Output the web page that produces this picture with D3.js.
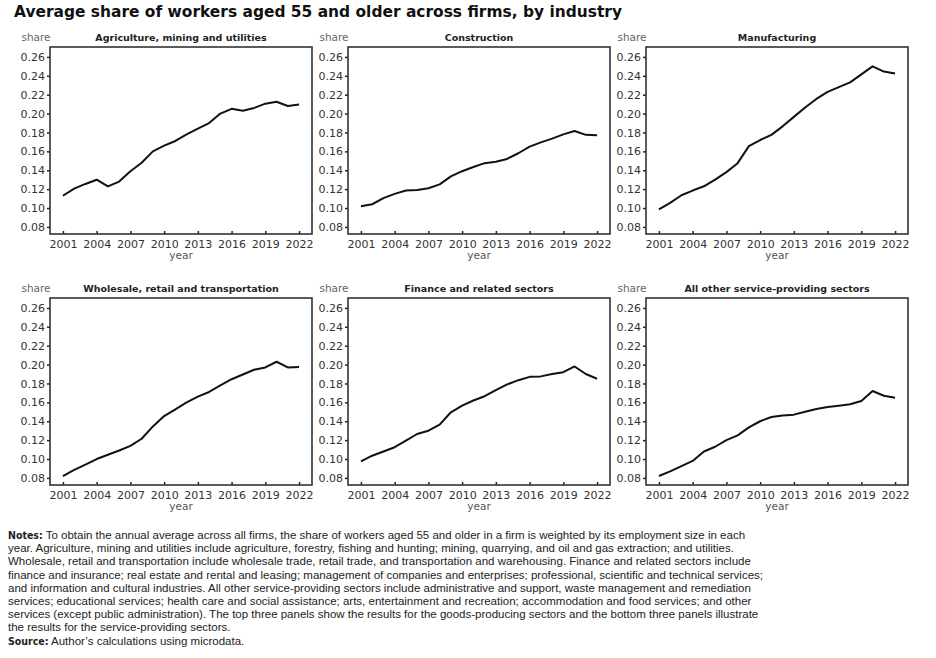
<!DOCTYPE html>
<html>
<head>
<meta charset="utf-8">
<script src="https://cdn.jsdelivr.net/npm/d3@7"></script>
<style>
  body { margin: 0; background: #fff; }
  svg { display: block; }
</style>
</head>
<body>
<svg id="chart" width="936" height="658"></svg>
<script>
const years = d3.range(2001, 2023);
const yearTicks = [2001, 2004, 2007, 2010, 2013, 2016, 2019, 2022];
const shareTicks = [0.08, 0.10, 0.12, 0.14, 0.16, 0.18, 0.20, 0.22, 0.24, 0.26];

const titles = [
    "Agriculture, mining and utilities",
    "Construction",
    "Manufacturing",
    "Wholesale, retail and transportation",
    "Finance and related sectors",
    "All other service-providing sectors"
];

// valeurs, 2001 -> 2022
const agriculture = [0.113, 0.1205, 0.1255, 0.130, 0.123, 0.128, 0.139, 0.148, 0.160, 0.166, 0.171, 0.178,
    0.184, 0.190, 0.200, 0.205, 0.203, 0.206, 0.2105, 0.2125, 0.208, 0.2095];
const construction = [0.102, 0.104, 0.1105, 0.115, 0.1185, 0.119, 0.121, 0.125, 0.1335, 0.139, 0.1435, 0.1475,
    0.149, 0.152, 0.158, 0.165, 0.1695, 0.1735, 0.178, 0.1815, 0.1775, 0.177];
const manufacturing = [0.0985, 0.1055, 0.1135, 0.1185, 0.123, 0.130, 0.138, 0.1475, 0.1655, 0.172, 0.1775, 0.1865,
    0.1965, 0.2065, 0.2155, 0.223, 0.228, 0.233, 0.2415, 0.250, 0.2445, 0.2425];
const wholesale = [0.082, 0.0885, 0.094, 0.100, 0.1045, 0.109, 0.114, 0.1215, 0.1345, 0.1455, 0.1525, 0.160,
    0.166, 0.171, 0.178, 0.1845, 0.1895, 0.1945, 0.197, 0.203, 0.197, 0.1975];
const finance = [0.0975, 0.1035, 0.108, 0.1125, 0.1195, 0.1265, 0.130, 0.1365, 0.1495, 0.1565, 0.162, 0.1665,
    0.173, 0.179, 0.1835, 0.187, 0.1875, 0.190, 0.192, 0.198, 0.190, 0.185];
const otherServices = [0.082, 0.087, 0.0925, 0.098, 0.108, 0.113, 0.120, 0.125, 0.1335, 0.140, 0.1445, 0.146,
    0.147, 0.150, 0.153, 0.155, 0.1565, 0.158, 0.1615, 0.172, 0.167, 0.165];

const series = [agriculture, construction, manufacturing, wholesale, finance, otherServices];

const notes = [
    [["Notes:", true], [" To obtain the annual average across all firms, the share of workers aged 55 and older in a firm is weighted by its employment size in each", false]],
    [["year. Agriculture, mining and utilities include agriculture, forestry, fishing and hunting;  mining, quarrying, and oil  and gas extraction; and utilities.", false]],
    [["Wholesale, retail and transportation include wholesale trade, retail trade, and transportation and warehousing. Finance and related sectors include", false]],
    [["finance and insurance; real estate and rental and leasing;  management of companies and enterprises; professional, scientific and technical services;", false]],
    [["and information and cultural industries. All other service-providing sectors include administrative and support, waste management and remediation", false]],
    [["services; educational services; health care and social assistance; arts, entertainment and recreation; accommodation and food services; and other", false]],
    [["services (except public administration). The top three panels show the results for the goods-producing sectors and the bottom three panels illustrate", false]],
    [["the results for the service-providing sectors.", false]],
    [["Source:", true], [" Author\u2019s calculations using microdata.", false]]
];

const svg = d3.select("#chart");
const font = "DejaVu Sans, Verdana, sans-serif";

// titre
const title = svg.append("text")
    .attr("x", 14)
    .attr("y", 17)
    .attr("font-family", font)
    .attr("font-weight", "bold")
    .attr("font-size", 15)
    .attr("fill", "#111")
    .text("Average share of workers aged 55 and older across firms, by industry");
const tw = title.node().getComputedTextLength();
if (tw > 0) title.attr("textLength", 608).attr("lengthAdjust", "spacingAndGlyphs");

const boxW = 262, boxH = 187;
const colX = [50, 348, 646];
const rowY = [47, 298];

const x = d3.scaleLinear().domain([1999.85, 2023.15]).range([0, boxW]);
const y = d3.scaleLinear().domain([0.0725, 0.2705]).range([boxH, 0]);

const line = d3.line()
    .x((d, i) => x(years[i]))
    .y(d => y(d));

series.forEach((values, k) => {
    const g = svg.append("g")
        .attr("transform", `translate(${colX[k % 3]}, ${rowY[Math.floor(k / 3)]})`);

    // axe des y
    const yAxis = g.append("g")
        .call(d3.axisLeft(y).tickValues(shareTicks).tickFormat(d3.format(".2f")).tickSize(3).tickPadding(2));
    yAxis.select(".domain").remove();
    yAxis.selectAll("line").attr("stroke", "#222").attr("stroke-width", 1.5);
    yAxis.selectAll("text").attr("font-family", font).attr("font-size", 11).attr("fill", "#333");

    // axe des x, graduations vers l'intérieur
    const xAxis = g.append("g")
        .attr("transform", `translate(0, ${boxH})`)
        .call(d3.axisBottom(x).tickValues(yearTicks).tickFormat(d3.format("d")).tickSizeInner(-3).tickSizeOuter(0).tickPadding(6));
    xAxis.select(".domain").remove();
    xAxis.selectAll("line").attr("stroke", "#222").attr("stroke-width", 1.5);
    xAxis.selectAll("text").attr("font-family", font).attr("font-size", 11).attr("fill", "#333");

    g.append("rect")
        .attr("width", boxW)
        .attr("height", boxH)
        .attr("fill", "none")
        .attr("stroke", "#333")
        .attr("stroke-width", 1.6);

    g.append("path")
        .datum(values)
        .attr("fill", "none")
        .attr("stroke", "#111")
        .attr("stroke-width", 2)
        .attr("stroke-linejoin", "round")
        .attr("d", line);

    g.append("text")
        .attr("x", boxW / 2)
        .attr("y", -6)
        .attr("text-anchor", "middle")
        .attr("font-family", font)
        .attr("font-weight", "bold")
        .attr("font-size", 9.5)
        .attr("fill", "#222")
        .text(titles[k]);

    g.append("text")
        .attr("x", -14)
        .attr("y", -6)
        .attr("text-anchor", "middle")
        .attr("font-family", font)
        .attr("font-size", 10.5)
        .attr("fill", "#666")
        .text("share");

    g.append("text")
        .attr("x", boxW / 2)
        .attr("y", boxH + 25)
        .attr("text-anchor", "middle")
        .attr("font-family", font)
        .attr("font-size", 10.5)
        .attr("fill", "#555")
        .text("year");
});

// notes en bas
const noteFont = "Liberation Sans Narrow, Arial Narrow, Liberation Sans, sans-serif";
notes.forEach((parts, i) => {
    const t = svg.append("text")
        .attr("x", 8)
        .attr("y", 539 + i * 13.2)
        .attr("font-family", noteFont)
        .attr("font-size", 11.5)
        .attr("fill", "#222");
    parts.forEach(([str, bold]) => {
        t.append("tspan")
            .attr("font-weight", bold ? "bold" : "normal")
            .attr("font-family", bold ? "DejaVu Sans Condensed, Liberation Sans Narrow, sans-serif" : noteFont)
            .attr("font-size", bold ? 10.5 : 11.5)
            .text(str);
    });
});
</script>
</body>
</html>
